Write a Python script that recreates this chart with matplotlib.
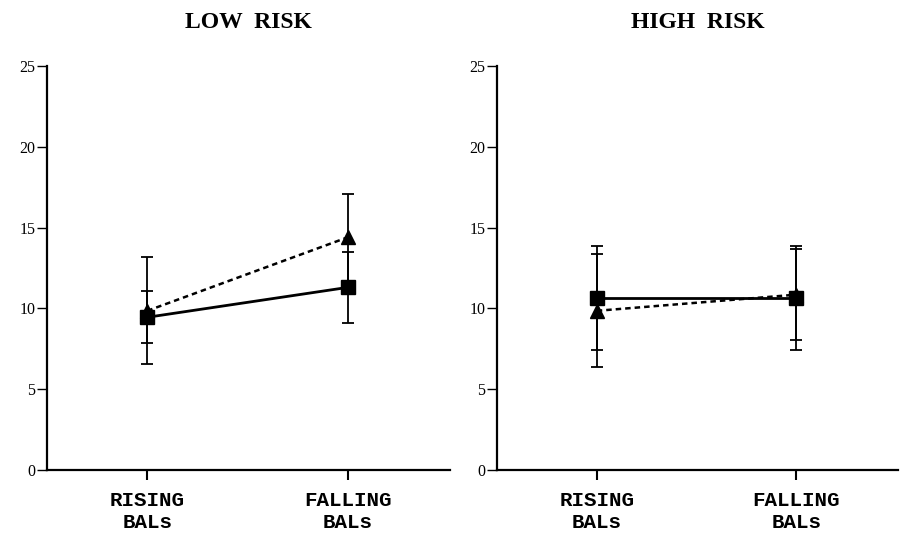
import matplotlib
matplotlib.use("Agg")
import matplotlib.pyplot as plt

categories = ["RISING\nBALs", "FALLING\nBALs"]
panel_titles = ["LOW  RISK", "HIGH  RISK"]

# LOW RISK panel
low_square_mean = [9.45, 11.3]
low_square_err = [1.6, 2.2]
low_tri_mean = [9.85, 14.4]
low_tri_err = [3.3, 2.7]

# HIGH RISK panel
high_square_mean = [10.65, 10.65]
high_square_err = [3.2, 3.2]
high_tri_mean = [9.85, 10.85]
high_tri_err = [3.5, 2.8]

yticks = [0, 5, 10, 15, 20, 25]

fig = plt.figure(figsize=(9, 5.42), dpi=100)
axL = fig.add_axes([47/900, 72/542, 403/900, 404/542])
axR = fig.add_axes([497/900, 72/542, 401/900, 404/542])

panels = [
    (axL, low_square_mean, low_square_err, low_tri_mean, low_tri_err),
    (axR, high_square_mean, high_square_err, high_tri_mean, high_tri_err),
]

xpos = [1, 2]
for i, (ax, sm, se, tm, te) in enumerate(panels):
    ax.errorbar(xpos, tm, yerr=te, color="black", lw=1.8, ls=(0, (2.2, 1.6)),
                marker="^", ms=10, capsize=4, elinewidth=1.3, capthick=1.3, zorder=3)
    ax.errorbar(xpos, sm, yerr=se, color="black", lw=2.0, ls="-",
                marker="s", ms=10.5, capsize=4, elinewidth=1.3, capthick=1.3, zorder=4)
    ax.set_xlim(0.5, 2.51)
    ax.set_ylim(0, 25)
    ax.set_yticks(yticks)
    ax.set_yticklabels([str(v) for v in yticks], fontfamily="Liberation Serif", fontsize=11.5)
    ax.set_xticks(xpos)
    ax.set_xticklabels(categories, fontfamily="Liberation Mono", fontweight="bold",
                       fontsize=15, linespacing=1.2)
    for s in ["top", "right"]:
        ax.spines[s].set_visible(False)
    ax.spines["left"].set_linewidth(1.6)
    ax.spines["bottom"].set_linewidth(1.6)
    ax.tick_params(axis="y", direction="out", length=7, width=1.0, pad=1.5)
    ax.tick_params(axis="x", direction="out", length=7, width=1.5, pad=8)
    fig.text((47 + 450) / 2 / 900 if i == 0 else (497 + 898) / 2 / 900, 1 - 22 / 542,
             panel_titles[i], ha="center", va="center",
             fontfamily="Liberation Serif", fontweight="bold", fontsize=17)

fig.savefig("out.png", dpi=100)
